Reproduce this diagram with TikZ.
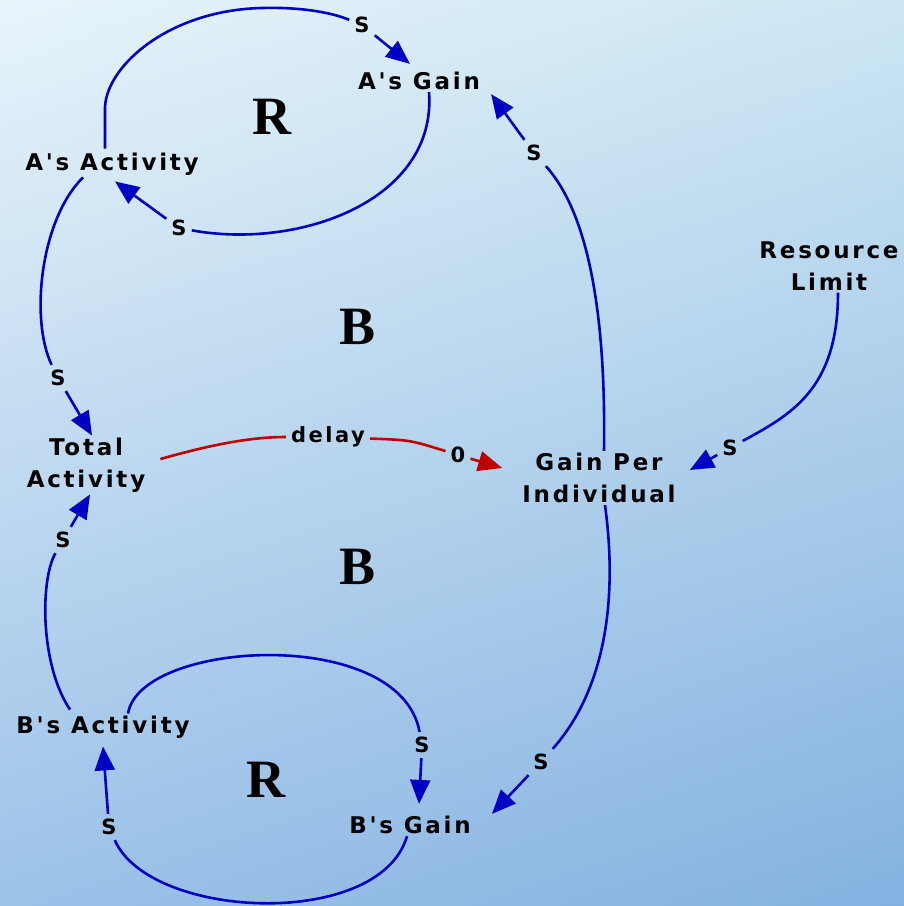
\documentclass[tikz,border=0pt]{standalone}
\usepackage{fontspec}
\setmainfont{Liberation Serif}
\newfontfamily\pixfont[LetterSpace=12,Ligatures=TeXOff]{DejaVu Sans}
\usetikzlibrary{arrows.meta,shadings}
\definecolor{lnkc}{HTML}{0000C4}
\definecolor{dlyc}{HTML}{C00000}
\definecolor{bgTL}{HTML}{E8F4FA}
\definecolor{bgTR}{HTML}{CCE6F3}
\definecolor{bgBL}{HTML}{9CC2E8}
\definecolor{bgBR}{HTML}{84B1E0}
\begin{document}
\begin{tikzpicture}[x=1pt,y=-1pt,
  var/.style={font=\pixfont\bfseries\fontsize{23}{32}\selectfont, align=center, inner sep=2pt},
  pol/.style={font=\pixfont\bfseries\fontsize{21}{26}\selectfont, inner sep=5pt},
  loopl/.style={font=\bfseries\fontsize{54}{54}\selectfont, inner sep=0pt},
  lnk/.style={draw=lnkc, line width=2.6pt},
  dly/.style={draw=dlyc, line width=2.6pt},
  tip/.style={-{Triangle[length=24pt,width=20pt]}}]
\shade[upper left=bgTL, upper right=bgTR, lower left=bgBL, lower right=bgBR] (0,0) rectangle (904,906);
\useasboundingbox (0,0) rectangle (904,906);

% variables
\node[var] (Again) at (419,81) {A's Gain};
\node[var] (Aact) at (112,164) {A's Activity};
\node[var] (Tot) at (86,465) {Total\\Activity};
\node[var] (GPI) at (599,478) {Gain Per\\Individual};
\node[var] (Res) at (829,266) {Resource\\Limit};
\node[var] (Bact) at (103,727) {B's Activity};
\node[var] (Bgain) at (410,825) {B's Gain};

% loop labels
\node[loopl] (R1) at (272,117) {R};
\node[loopl] (B1) at (358,327) {B};
\node[loopl] (B2) at (358,567) {B};
\node[loopl] (R2) at (266,780) {R};

% polarity labels
\node[pol] (S1) at (362,25) {S};
\node[pol] (S2) at (179,228) {S};
\node[pol] (S3) at (58,378) {S};
\node[pol] (S4) at (63,540) {S};
\node[pol] (S6) at (730,448) {S};
\node[pol] (S7) at (534,153) {S};
\node[pol] (S8) at (541,762) {S};
\node[pol] (S9) at (422,745) {S};
\node[pol] (S10) at (109,827) {S};
\node[pol] (dl) at (328,437) {delay};
\node[pol] (z) at (458,455) {0};

% A's Activity -> A's Gain
\draw[lnk] ([xshift=-7pt,yshift=2pt]Aact.north) -- (105,107)
  .. controls (107,65) and (170,10) .. (262,8)
  .. controls (300,7) and (330,12) .. (S1);
\draw[lnk,tip] (S1) -- ([xshift=-9pt,yshift=6pt]Again.north);

% A's Gain -> A's Activity
\draw[lnk] ([xshift=10pt]Again.south) .. controls (437,200) and (300,250) .. (S2);
\draw[lnk,tip] (S2) -- ([xshift=3pt,yshift=-4pt]Aact.south);

% A's Activity -> Total Activity
\draw[lnk] ([xshift=-29pt]Aact.south) .. controls (40,220) and (30,320) .. (S3);
\draw[lnk,tip] (S3) -- ([xshift=6pt]Tot.north);

% B's Activity -> Total Activity
\draw[lnk] ([xshift=-33pt,yshift=4pt]Bact.north) .. controls (40,665) and (40,580) .. (S4);
\draw[lnk,tip] (S4) -- ([xshift=4pt]Tot.south);

% Total Activity -> Gain Per Individual (delay)
\draw[dly] ([xshift=13pt,yshift=6pt]Tot.east) .. controls (210,445) and (250,437) .. (dl);
\draw[dly] (dl) .. controls (410,440) .. (z);
\draw[dly,tip] (z) -- ([xshift=-18pt,yshift=10pt]GPI.west);

% Resource Limit -> Gain Per Individual
\draw[lnk] ([xshift=9pt]Res.south) .. controls (838,390) and (790,415) .. (S6);
\draw[lnk,tip] (S6) -- ([xshift=12pt,yshift=8pt]GPI.east);

% Gain Per Individual -> A's Gain
\draw[lnk] ([xshift=5pt]GPI.north) .. controls (606,320) and (590,215) .. (S7);
\draw[lnk,tip] (S7) -- ([xshift=9pt,yshift=-2pt]Again.south east);

% Gain Per Individual -> B's Gain
\draw[lnk] ([xshift=6pt]GPI.south) .. controls (618,600) and (605,690) .. (S8);
\draw[lnk,tip] (S8) -- ([xshift=19pt]Bgain.north east);

% B's Activity -> B's Gain
\draw[lnk] ([xshift=25pt]Bact.north) .. controls (140,640) and (400,625) .. (S9);
\draw[lnk,tip] (S9) -- ([xshift=9pt,yshift=10pt]Bgain.north);

% B's Gain -> B's Activity
\draw[lnk] ([xshift=-3pt]Bgain.south) .. controls (380,930) and (150,920) .. (S10);
\draw[lnk,tip] (S10) -- ([xshift=0pt,yshift=-6pt]Bact.south);
\end{tikzpicture}
\end{document}
